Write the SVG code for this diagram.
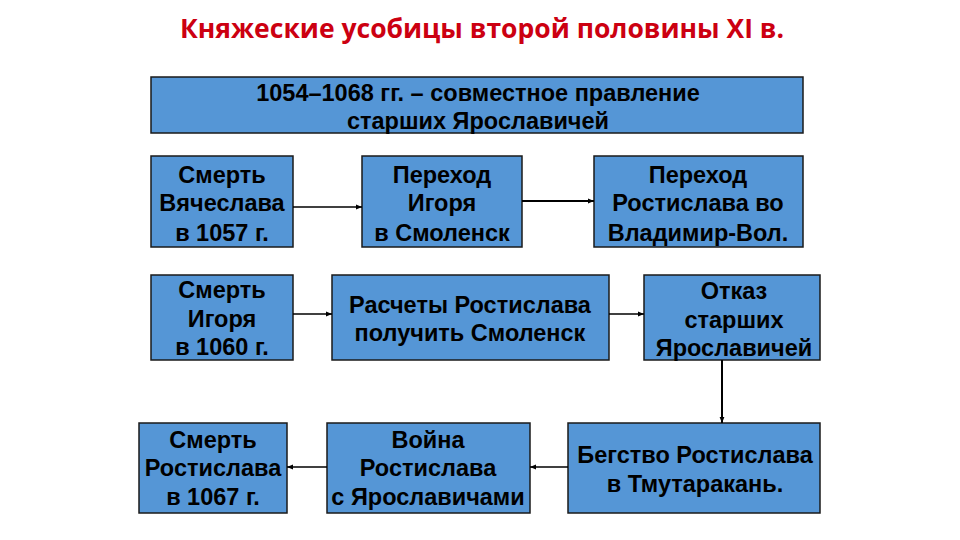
<svg xmlns="http://www.w3.org/2000/svg" width="960" height="540" viewBox="0 0 960 540">
<defs>
<style>
.box{fill:#5596d6;stroke:#1a1a1a;stroke-width:1.5}
.t{font-family:"Liberation Sans",Arial,sans-serif;font-weight:bold;font-size:23.5px;fill:#000;text-anchor:middle}
.title{font-family:"Open Sans","Liberation Sans",sans-serif;font-weight:bold;font-size:26.5px;fill:#cc0011;text-anchor:middle}
.c{stroke:#000;stroke-width:1.3;fill:none;marker-end:url(#ah)}
</style>
<marker id="ah" viewBox="0 0 10 10" refX="10" refY="5" markerWidth="6" markerHeight="6" orient="auto" markerUnits="userSpaceOnUse">
<path d="M0,1 L10,5 L0,9 z" fill="#000"/>
</marker>
</defs>
<rect width="960" height="540" fill="#fff"/>
<text class="title" x="482" y="38">Княжеские усобицы второй половины XI в.</text>

<g id="top">
<rect class="box" x="151" y="77" width="652" height="56"/>
<text class="t" x="478" y="101">1054–1068 гг. – совместное правление</text>
<text class="t" x="478" y="129">старших Ярославичей</text>
</g>

<g id="n1">
<rect class="box" x="151" y="156" width="142" height="91"/>
<text class="t" x="222" y="183">Смерть</text>
<text class="t" x="222" y="211">Вячеслава</text>
<text class="t" x="222" y="241">в 1057 г.</text>
</g>
<g id="n2">
<rect class="box" x="362" y="156" width="160" height="91"/>
<text class="t" x="442" y="183">Переход</text>
<text class="t" x="442" y="211">Игоря</text>
<text class="t" x="442" y="241">в Смоленск</text>
</g>
<g id="n3">
<rect class="box" x="594" y="156" width="209" height="91"/>
<text class="t" x="698" y="183">Переход</text>
<text class="t" x="698" y="211">Ростислава во</text>
<text class="t" x="698" y="241">Владимир-Вол.</text>
</g>

<g id="n4">
<rect class="box" x="151" y="275" width="142" height="85"/>
<text class="t" x="222" y="298">Смерть</text>
<text class="t" x="222" y="327">Игоря</text>
<text class="t" x="222" y="355">в 1060 г.</text>
</g>
<g id="n5">
<rect class="box" x="332" y="275" width="277" height="85"/>
<text class="t" x="470" y="313">Расчеты Ростислава</text>
<text class="t" x="470" y="341">получить Смоленск</text>
</g>
<g id="n6">
<rect class="box" x="644" y="275" width="176" height="85"/>
<text class="t" x="734" y="299">Отказ</text>
<text class="t" x="734" y="328">старших</text>
<text class="t" x="734" y="356">Ярославичей</text>
</g>

<g id="n7">
<rect class="box" x="139" y="423" width="148" height="90"/>
<text class="t" x="213" y="448">Смерть</text>
<text class="t" x="213" y="476">Ростислава</text>
<text class="t" x="213" y="505">в 1067 г.</text>
</g>
<g id="n8">
<rect class="box" x="327" y="423" width="203" height="90"/>
<text class="t" x="428" y="448">Война</text>
<text class="t" x="428" y="476">Ростислава</text>
<text class="t" x="428" y="505">с Ярославичами</text>
</g>
<g id="n9">
<rect class="box" x="568" y="423" width="252" height="90"/>
<text class="t" x="695" y="463">Бегство Ростислава</text>
<text class="t" x="695" y="492">в Тмутаракань.</text>
</g>

<g id="connectors">
<line class="c" x1="293" y1="207" x2="362" y2="207"/>
<line class="c" x1="522" y1="201" x2="594" y2="201" style="stroke-width:2"/>
<line class="c" x1="293" y1="314" x2="332" y2="314"/>
<line class="c" x1="609" y1="314" x2="644" y2="314"/>
<line class="c" x1="722" y1="360" x2="722" y2="423" style="stroke-width:2"/>
<line class="c" x1="568" y1="467" x2="530" y2="467"/>
<line class="c" x1="327" y1="467" x2="287" y2="467"/>
</g>
</svg>
